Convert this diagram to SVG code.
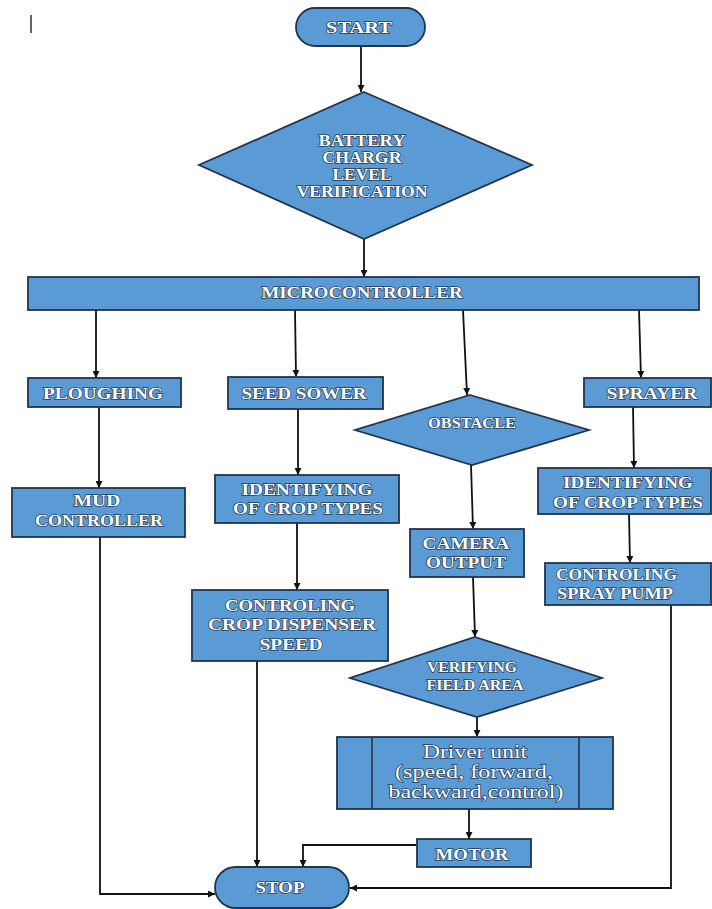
<svg xmlns="http://www.w3.org/2000/svg" width="712" height="909" viewBox="0 0 712 909">
<defs>
<marker id="ah" viewBox="0 0 10 10" refX="10" refY="5" markerWidth="7" markerHeight="7" orient="auto" markerUnits="userSpaceOnUse">
<path d="M0,0 L10,5 L0,10 z" fill="#111"/>
</marker>
<style>
.box{fill:#5b9bd5;stroke:#22344f;stroke-width:1.8}
.t{font-family:"Liberation Serif","Times New Roman",serif;font-weight:bold;font-size:17.5px;fill:#fff;stroke:#253a57;stroke-width:1.4;paint-order:stroke fill;text-anchor:middle}
.s{font-size:15px}
.b{font-size:16px}
.r{font-weight:normal;font-size:19px}
.l{text-anchor:start}
.c{fill:none;stroke:#111;stroke-width:1.8}
</style>
</defs>
<rect width="712" height="909" fill="#fff"/>
<line x1="31" y1="15" x2="31" y2="33" stroke="#333" stroke-width="1.5"/>

<g id="connectors">
<line class="c" x1="361" y1="46" x2="361" y2="92" marker-end="url(#ah)"/>
<line class="c" x1="364" y1="239" x2="364" y2="277" marker-end="url(#ah)"/>
<line class="c" x1="96" y1="310" x2="96" y2="378" marker-end="url(#ah)"/>
<line class="c" x1="295" y1="310" x2="296" y2="377" marker-end="url(#ah)"/>
<line class="c" x1="463" y1="310" x2="467" y2="395" marker-end="url(#ah)"/>
<line class="c" x1="639" y1="310" x2="641" y2="378" marker-end="url(#ah)"/>
<line class="c" x1="99" y1="407" x2="99" y2="488" marker-end="url(#ah)"/>
<line class="c" x1="298" y1="409" x2="298" y2="475" marker-end="url(#ah)"/>
<line class="c" x1="297" y1="523" x2="297" y2="590" marker-end="url(#ah)"/>
<line class="c" x1="471" y1="465" x2="473" y2="529" marker-end="url(#ah)"/>
<line class="c" x1="633" y1="407" x2="634" y2="468" marker-end="url(#ah)"/>
<line class="c" x1="629" y1="514" x2="630" y2="563" marker-end="url(#ah)"/>
<line class="c" x1="473" y1="577" x2="475" y2="637" marker-end="url(#ah)"/>
<line class="c" x1="477" y1="717" x2="477" y2="737" marker-end="url(#ah)"/>
<line class="c" x1="469" y1="809" x2="469" y2="839" marker-end="url(#ah)"/>
<polyline class="c" points="417,845 303,845 303,867" marker-end="url(#ah)"/>
<line class="c" x1="257" y1="661" x2="257" y2="867" marker-end="url(#ah)"/>
<polyline class="c" points="100,537 100,894 215,894" marker-end="url(#ah)"/>
<polyline class="c" points="671,605 671,888 350,888" marker-end="url(#ah)"/>
</g>

<g id="start">
<rect class="box" x="296" y="8" width="129" height="38" rx="19"/>
<text class="t" x="359" y="33" textLength="66" lengthAdjust="spacingAndGlyphs">START</text>
</g>

<g id="battery">
<polygon class="box" points="364,92 532,165 364,239 199,165"/>
<text class="t b" x="362" y="146" textLength="87" lengthAdjust="spacingAndGlyphs">BATTERY</text>
<text class="t b" x="362" y="163" textLength="79" lengthAdjust="spacingAndGlyphs">CHARGR</text>
<text class="t b" x="362" y="180" textLength="59" lengthAdjust="spacingAndGlyphs">LEVEL</text>
<text class="t b" x="362" y="197" textLength="131" lengthAdjust="spacingAndGlyphs">VERIFICATION</text>
</g>

<g id="microcontroller">
<rect class="box" x="28" y="277" width="671" height="33"/>
<text class="t" x="362" y="298" textLength="201" lengthAdjust="spacingAndGlyphs">MICROCONTROLLER</text>
</g>

<g id="ploughing">
<rect class="box" x="28" y="378" width="153" height="29"/>
<text class="t" x="103" y="399" textLength="120" lengthAdjust="spacingAndGlyphs">PLOUGHING</text>
</g>

<g id="mud">
<rect class="box" x="12" y="488" width="173" height="49"/>
<text class="t" x="97" y="506" textLength="47" lengthAdjust="spacingAndGlyphs">MUD</text>
<text class="t" x="99" y="526" textLength="128" lengthAdjust="spacingAndGlyphs">CONTROLLER</text>
</g>

<g id="seedsower">
<rect class="box" x="228" y="377" width="155" height="32"/>
<text class="t" x="304" y="399" textLength="125" lengthAdjust="spacingAndGlyphs">SEED SOWER</text>
</g>

<g id="identify1">
<rect class="box" x="215" y="475" width="184" height="48"/>
<text class="t b" x="307" y="495" textLength="131" lengthAdjust="spacingAndGlyphs">IDENTIFYING</text>
<text class="t b" x="308" y="514" textLength="150" lengthAdjust="spacingAndGlyphs">OF CROP TYPES</text>
</g>

<g id="dispenser">
<rect class="box" x="192" y="590" width="196" height="71"/>
<text class="t" x="290" y="611" textLength="130" lengthAdjust="spacingAndGlyphs">CONTROLING</text>
<text class="t" x="292" y="630" textLength="168" lengthAdjust="spacingAndGlyphs">CROP DISPENSER</text>
<text class="t" x="291" y="650" textLength="63" lengthAdjust="spacingAndGlyphs">SPEED</text>
</g>

<g id="obstacle">
<polygon class="box" points="470,395 589,430 472,465 355,430"/>
<text class="t s" x="472" y="428" textLength="88" lengthAdjust="spacingAndGlyphs">OBSTACLE</text>
</g>

<g id="camera">
<rect class="box" x="410" y="529" width="114" height="48"/>
<text class="t b" x="466" y="549" textLength="87" lengthAdjust="spacingAndGlyphs">CAMERA</text>
<text class="t b" x="466" y="568" textLength="80" lengthAdjust="spacingAndGlyphs">OUTPUT</text>
</g>

<g id="verifying">
<polygon class="box" points="475,637 602,678 477,717 350,678"/>
<text class="t s" x="472" y="672" textLength="90" lengthAdjust="spacingAndGlyphs">VERIFYING</text>
<text class="t s" x="475" y="690" textLength="97" lengthAdjust="spacingAndGlyphs">FIELD AREA</text>
</g>

<g id="driver">
<rect class="box" x="337" y="737" width="276" height="72"/>
<line x1="372" y1="737" x2="372" y2="809" stroke="#22344f" stroke-width="1.6"/>
<line x1="579" y1="737" x2="579" y2="809" stroke="#22344f" stroke-width="1.6"/>
<text class="t r" x="475" y="758" textLength="104" lengthAdjust="spacingAndGlyphs">Driver unit</text>
<text class="t r" x="474" y="778" textLength="158" lengthAdjust="spacingAndGlyphs">(speed, forward,</text>
<text class="t r" x="476" y="798" textLength="175" lengthAdjust="spacingAndGlyphs">backward,control)</text>
</g>

<g id="motor">
<rect class="box" x="417" y="839" width="114" height="28"/>
<text class="t" x="472" y="860" textLength="73" lengthAdjust="spacingAndGlyphs">MOTOR</text>
</g>

<g id="sprayer">
<rect class="box" x="584" y="378" width="127" height="29"/>
<text class="t" x="652" y="399" textLength="91" lengthAdjust="spacingAndGlyphs">SPRAYER</text>
</g>

<g id="identify2">
<rect class="box" x="538" y="468" width="173" height="46"/>
<text class="t" x="628" y="488" textLength="130" lengthAdjust="spacingAndGlyphs">IDENTIFYING</text>
<text class="t" x="628" y="508" textLength="150" lengthAdjust="spacingAndGlyphs">OF CROP TYPES</text>
</g>

<g id="spraypump">
<rect class="box" x="545" y="563" width="166" height="42"/>
<text class="t l" x="556" y="580" textLength="121" lengthAdjust="spacingAndGlyphs">CONTROLING</text>
<text class="t l" x="557" y="599" textLength="116" lengthAdjust="spacingAndGlyphs">SPRAY PUMP</text>
</g>

<g id="stop">
<rect class="box" x="215" y="867" width="134" height="41" rx="20.5"/>
<text class="t" x="280" y="893" textLength="49" lengthAdjust="spacingAndGlyphs">STOP</text>
</g>
</svg>
